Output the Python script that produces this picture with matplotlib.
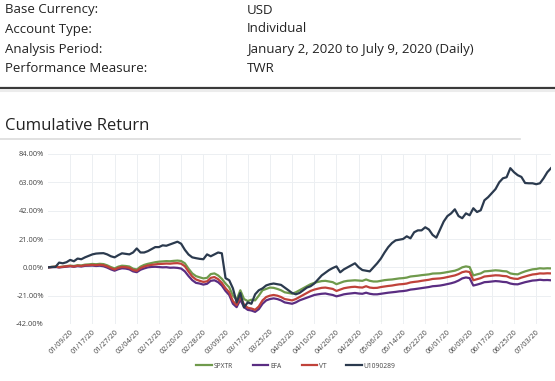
import matplotlib
matplotlib.use("Agg")
import matplotlib.pyplot as plt
from matplotlib.lines import Line2D
import pandas as pd

# ---- data ----
dates = pd.bdate_range("2020-01-01", "2020-07-09")
tick_step = 6

spxtr = [0, 0.3, 0.6, 0.2, 0.5, 0.9, 1.3, 1.0, 1.6, 1.4, 2.0, 2.2, 2.5, 2.3, 2.6, 2.4, 1.5, 0.2, -0.8, 0.5,
         1.2, 1.0, 0.6, -1.0, -1.6, 0.5, 1.8, 2.6, 3.2, 3.8, 4.2, 4.4, 4.6, 4.5, 4.8, 5.0, 4.7, 3.0, -1.0, -4.5,
         -6.5, -7.4, -8.2, -7.8, -5.0, -4.5, -6.0, -8.5, -12.0, -14.8, -21.0, -24.0, -17.0, -23.5, -25.0, -24.0, -24.5, -21.0, -17.0, -16.0,
         -15.0, -15.2, -16.0, -17.0, -18.5, -19.0, -19.5, -18.5, -17.0, -15.5, -14.0, -12.5, -11.5, -10.8, -10.2, -10.0, -10.5, -11.0, -12.5, -11.5,
         -10.5, -10.0, -9.8, -9.6, -9.8, -10.0, -9.0, -10.0, -10.5, -10.5, -10.0, -9.5, -9.2, -9.0, -8.6, -8.2, -8.0, -7.6, -6.8, -6.5,
         -6.2, -5.8, -5.5, -5.2, -4.6, -4.5, -4.4, -4.0, -3.5, -3.0, -2.5, -1.5, 0.0, 0.7, 0.2, -6.0, -5.2, -4.5, -3.0, -2.8,
         -2.5, -2.2, -2.4, -2.8, -3.0, -4.5, -5.0, -5.2, -4.0, -3.0, -2.2, -1.5, -1.2, -0.7, -0.9, -0.7, -0.8]

efa = [0, 0.1, 0.3, -0.1, 0.2, 0.5, 0.8, 0.4, 0.9, 0.6, 1.1, 1.2, 1.3, 1.0, 1.2, 0.8, -0.2, -1.5, -2.5, -1.4,
       -0.7, -0.9, -1.5, -3.0, -3.6, -1.8, -0.8, 0.0, 0.3, 0.4, 0.2, 0.0, 0.1, -0.3, -0.2, -0.4, -0.9, -3.0, -6.5, -9.5,
       -11.5, -12.0, -12.8, -12.2, -10.0, -9.6, -11.0, -13.5, -17.5, -20.5, -27.0, -29.5, -24.0, -29.5, -31.5, -32.0, -33.0, -31.0, -27.0, -24.5,
       -23.5, -23.0, -23.5, -24.5, -26.0, -26.5, -27.0, -26.0, -24.5, -23.5, -22.5, -21.5, -20.5, -20.0, -19.6, -19.4, -20.0, -20.5, -21.5, -20.8,
       -20.0, -19.6, -19.3, -19.0, -19.4, -19.6, -18.8, -19.6, -20.0, -20.0, -19.6, -19.2, -18.8, -18.5, -18.2, -17.8, -17.6, -17.2, -16.5, -16.2,
       -15.8, -15.4, -15.0, -14.6, -14.0, -13.8, -13.5, -13.0, -12.4, -11.8, -11.0, -9.8, -8.2, -7.5, -8.0, -13.5, -12.8, -12.0, -11.0, -10.8,
       -10.5, -10.2, -10.4, -10.8, -11.0, -12.0, -12.5, -12.6, -11.8, -11.0, -10.4, -9.8, -9.6, -9.2, -9.5, -9.4, -9.6]

vt = [0, 0.2, 0.5, 0.1, 0.4, 0.7, 1.0, 0.6, 1.2, 1.0, 1.5, 1.6, 1.8, 1.6, 1.9, 1.6, 0.7, -0.6, -1.6, -0.4,
      0.3, 0.1, -0.4, -2.0, -2.6, -0.6, 0.6, 1.4, 1.8, 2.2, 2.5, 2.6, 2.8, 2.7, 3.0, 3.1, 2.7, 0.8, -3.2, -6.8,
      -9.0, -10.0, -10.8, -10.4, -7.8, -7.2, -8.8, -11.5, -15.5, -18.5, -25.0, -28.0, -22.0, -27.5, -30.0, -30.5, -31.5, -29.0, -24.5, -22.0,
      -21.0, -20.5, -21.0, -22.0, -23.5, -24.0, -24.5, -23.5, -22.0, -20.5, -19.0, -17.5, -16.5, -15.8, -15.2, -15.0, -15.5, -16.0, -17.5, -16.5,
      -15.5, -15.0, -14.6, -14.4, -14.8, -15.0, -14.0, -15.0, -15.3, -15.2, -14.6, -14.2, -13.8, -13.5, -13.0, -12.6, -12.4, -12.0, -11.2, -10.8,
      -10.5, -10.0, -9.6, -9.2, -8.6, -8.4, -8.2, -7.8, -7.2, -6.6, -6.0, -5.0, -3.6, -3.0, -3.5, -9.6, -8.8, -8.0, -6.8, -6.5,
      -6.2, -5.9, -6.0, -6.4, -6.6, -7.8, -8.4, -8.6, -7.6, -6.8, -6.0, -5.3, -5.0, -4.5, -4.6, -4.4, -4.5]

u1090289 = [0, 0.3, 0.2, 3.5, 3.0, 3.8, 5.5, 4.5, 6.5, 6.0, 7.4, 8.5, 9.6, 10.2, 10.4, 10.5, 9.6, 8.2, 7.4, 9.0,
            10.4, 10.0, 9.6, 11.0, 14.0, 11.0, 11.0, 12.0, 13.5, 15.0, 15.0, 16.3, 16.0, 17.0, 18.0, 19.0, 17.5, 13.0, 9.5, 7.4,
            6.8, 6.3, 6.0, 9.6, 8.2, 9.6, 11.0, 10.4, -8.0, -9.6, -15.6, -26.0, -19.0, -29.7, -26.0, -27.0, -20.0, -17.0, -15.6, -13.4,
            -12.5, -12.0, -12.5, -13.0, -15.0, -17.0, -19.0, -20.0, -19.0, -17.0, -15.0, -14.0, -12.0, -9.0, -6.0, -4.0, -2.0, -0.5, 0.7, -3.7,
            -1.5, 0.0, 1.5, 3.0, 0.0, -2.0, -2.5, -3.0, 0.0, 3.0, 6.5, 11.0, 15.0, 18.0, 20.0, 20.5, 21.0, 23.0, 21.5, 26.0,
            27.4, 27.4, 29.7, 28.0, 24.0, 22.0, 28.0, 34.0, 38.0, 40.0, 43.0, 38.0, 36.4, 40.0, 38.6, 43.8, 41.0, 42.3, 49.7, 52.0,
            55.0, 58.0, 63.0, 66.0, 66.8, 73.5, 70.5, 68.3, 67.0, 62.5, 62.3, 62.3, 61.6, 62.3, 66.0, 70.5, 73.5]

series = [("SPXTR", spxtr, "#6f9a4c"),
          ("EFA", efa, "#5a2d82"),
          ("VT", vt, "#c0423a"),
          ("U1090289", u1090289, "#2b3a4e")]

yticks = [-42, -21, 0, 21, 42, 63, 84]

header_labels = ["Base Currency:", "Account Type:", "Analysis Period:", "Performance Measure:"]
header_values = ["USD", "Individual", "January 2, 2020 to July 9, 2020 (Daily)", "TWR"]

# ---- figure ----
W, H = 555, 381
fig = plt.figure(figsize=(W / 100, H / 100), dpi=100)
fig.patch.set_facecolor("white")
FONT = ["Open Sans", "DejaVu Sans"]

def fy(py):
    return 1 - py / H

def fx(px):
    return px / W

row_y = [10, 29, 49, 69]
for lab, val, ry in zip(header_labels, header_values, row_y):
    fig.text(fx(5), fy(ry), lab, fontsize=9.5, family=FONT, color="#222222", va="center", ha="left")
    fig.text(fx(247), fy(ry), val, fontsize=9.5, family=FONT, color="#222222", va="center", ha="left")

fig.add_artist(Line2D([0, 1], [fy(88), fy(88)], transform=fig.transFigure, color="#3a3a3a", lw=1.6))
fig.add_artist(Line2D([0, 1], [fy(91), fy(91)], transform=fig.transFigure, color="#ececec", lw=1.5))

fig.text(fx(5), fy(126), "Cumulative Return", fontsize=12, family=FONT, color="#222222", va="center", ha="left")
fig.add_artist(Line2D([0, fx(520)], [fy(139), fy(139)], transform=fig.transFigure, color="#dcdcdc", lw=1.2))

ax = fig.add_axes([fx(48), fy(324), fx(551) - fx(48), (324 - 154) / H])
x = list(range(len(dates)))
for name, vals, col in series:
    ax.plot(x, vals, color=col, lw=1.6, label=name, solid_joinstyle="round")

ax.set_xlim(0, len(dates) - 1)
ax.set_ylim(-42, 84)
ax.set_yticks(yticks)
ax.set_yticklabels([f"{v:.2f}%" for v in yticks], fontsize=5.4, color="#444444", family=FONT)
ticks = list(range(tick_step, len(dates), tick_step))
ax.set_xticks(ticks)
ax.set_xticklabels([dates[i].strftime("%m/%d/%y") for i in ticks], fontsize=5.3, color="#444444",
                   family=FONT, rotation=45, ha="right", va="top", rotation_mode="anchor")
ax.tick_params(axis="both", length=0, pad=3)
ax.grid(True, color="#eceff2", lw=0.7)
ax.set_axisbelow(True)
for s in ax.spines.values():
    s.set_visible(False)

leg = fig.legend(loc="center", bbox_to_anchor=(fx(296), fy(366)), ncol=4, frameon=False,
                 prop={"family": FONT, "size": 4.8}, handlelength=2.3, handletextpad=0.3,
                 columnspacing=3.0)
for t in leg.get_texts():
    t.set_color("#444444")

fig.savefig("out.png", dpi=100, facecolor="white")
